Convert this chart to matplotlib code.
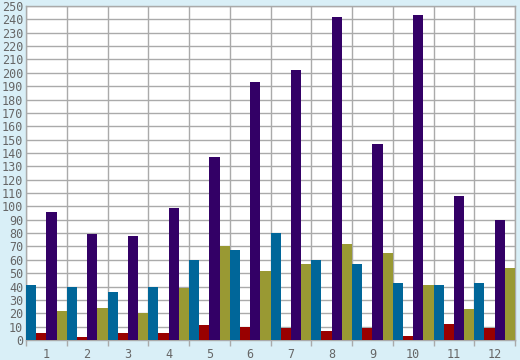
import matplotlib.pyplot as plt
import numpy as np

plt.rcParams["font.family"] = "DejaVu Sans Mono"

months = ["1", "2", "3", "4", "5", "6", "7", "8", "9", "10", "11", "12"]
blue = [41, 40, 36, 40, 60, 67, 80, 60, 57, 43, 41, 43]
red = [5, 2, 5, 5, 11, 10, 9, 7, 9, 3, 12, 9]
purple = [96, 79, 78, 99, 137, 193, 202, 242, 147, 243, 108, 90]
olive = [22, 24, 20, 39, 70, 52, 57, 72, 65, 41, 23, 54]

series = [blue, red, purple, olive]
colors = ["#006699", "#990000", "#330066", "#999933"]

bg = "#d9eff7"
grid = "#aaaaaa"
txt = "#666666"

fig = plt.figure(figsize=(5.2, 3.6), dpi=100, facecolor=bg)
ax = fig.add_axes([26 / 520, 20 / 360, 489 / 520, 334 / 360])
ax.set_facecolor("white")

x = np.arange(len(months))
w = 0.25
for k, (vals, c) in enumerate(zip(series, colors)):
    ax.bar(x - 0.5 + w * (k + 0.5), vals, width=w, color=c, zorder=3, linewidth=0)

ax.set_xlim(-0.5, len(months) - 0.5)
ax.set_ylim(0, 250)

# boundaries as major ticks (grid), labels on minor ticks at centers
ax.set_xticks(np.arange(len(months) + 1) - 0.5)
ax.set_xticklabels([])
ax.set_xticks(x, minor=True)
ax.set_xticklabels(months, minor=True)
ax.tick_params(axis="x", which="major", length=4, color=grid, width=1)
ax.tick_params(axis="x", which="minor", length=0, pad=6, labelsize=8.5, labelcolor=txt)

ax.set_yticks(np.arange(0, 251, 10))
ax.tick_params(axis="y", length=0, pad=2, labelsize=8.5, labelcolor=txt)

ax.grid(True, which="major", color=grid, linewidth=1, zorder=0)
for s in ax.spines.values():
    s.set_color(grid)
    s.set_linewidth(1)

fig.savefig("out.png", dpi=100, facecolor=bg)
